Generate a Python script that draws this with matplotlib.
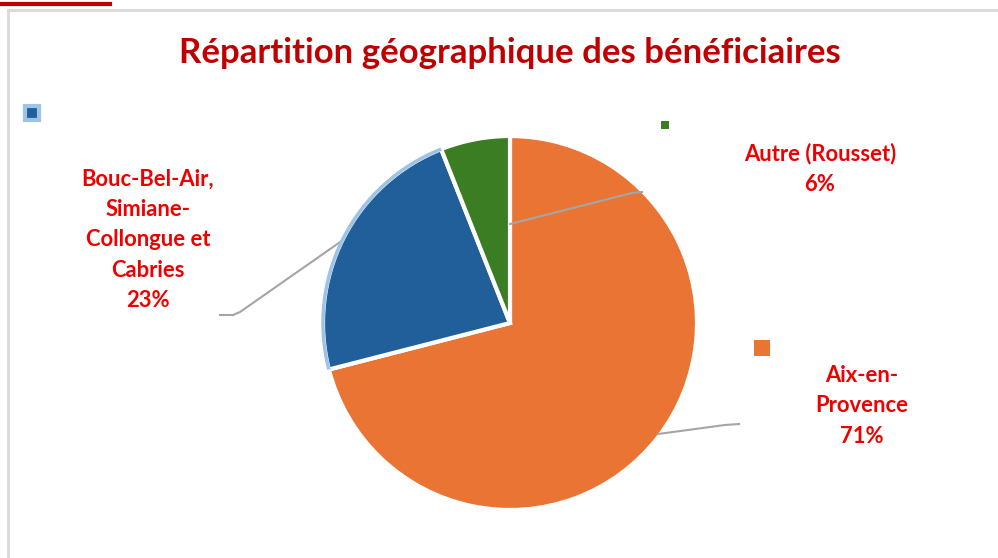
import numpy as np
import matplotlib.pyplot as plt
from matplotlib.patches import Arc, Rectangle

# data
labels = ["Aix-en-\nProvence", "Bouc-Bel-Air,\nSimiane-\nCollongue et\nCabries", "Autre (Rousset)"]
values = [71, 23, 6]
colors = ["#EA7433", "#215F9A", "#3B7D23"]
title = "Répartition géographique des bénéficiaires"

W, H = 998, 558
fig = plt.figure(figsize=(W / 100, H / 100), dpi=100)
ax = fig.add_axes([0, 0, 1, 1])


def py(y):
    # pixel row (from top) -> data y
    return H - y


cx, cy, r = 510, py(323), 187
wedges, _ = ax.pie(values, colors=colors, startangle=90, counterclock=False,
                   center=(cx, cy), radius=r, frame=True,
                   wedgeprops=dict(edgecolor="white", linewidth=3))
ax.set_xlim(0, W)
ax.set_ylim(0, H)
ax.set_aspect("equal")
ax.axis("off")

# light outline on the blue slice
bw = wedges[1]
ax.add_patch(Arc((cx, cy), 2 * r, 2 * r, theta1=bw.theta1, theta2=bw.theta2,
                 color="#9DC3E6", lw=2.5, zorder=3))

# frame lines
ax.plot([8.5, W], [py(10), py(10)], color="#D9D9D9", lw=2, clip_on=False)
ax.plot([8.5, 8.5], [py(10), 0], color="#D9D9D9", lw=2, clip_on=False)
ax.plot([0, 110], [py(4), py(4)], color="#C00000", lw=3, clip_on=False)

ax.text(510, py(53), title, ha="center", va="center", fontsize=25,
        fontweight="bold", color="#C00000", family="Lato")

# leader lines
lc = "#A5A5A5"
ax.plot([510, 632, 642], [py(224), py(193), py(192)], color=lc, lw=1.5)
ax.plot([343, 240, 233], [py(240), py(312), py(315)], color=lc, lw=1.5)
ax.plot([220, 233], [py(315), py(315)], color=lc, lw=1.5)
ax.plot([658, 725, 739], [py(434), py(425), py(424)], color=lc, lw=1.5)

# data labels
pct = [f"{v}%" for v in values]
lab_pos = [(862, py(406)), (148, py(240)), (820, py(169))]
for (x, y), lab, p in zip(lab_pos, labels, pct):
    ax.text(x, y, lab + "\n" + p, ha="center", va="center", fontsize=15.8,
            fontweight="bold", color="#EE0000", family="Lato", linespacing=1.55)

# stray legend keys
ax.add_patch(Rectangle((25, py(120)), 14, 14, facecolor="#215F9A",
                       edgecolor="#9DC3E6", lw=3, zorder=4))
ax.add_patch(Rectangle((661, py(129)), 8, 8, facecolor="#3B7D23", lw=0))
ax.add_patch(Rectangle((754, py(356)), 16, 16, facecolor="#EA7433", lw=0))

fig.savefig("out.png", dpi=100)
